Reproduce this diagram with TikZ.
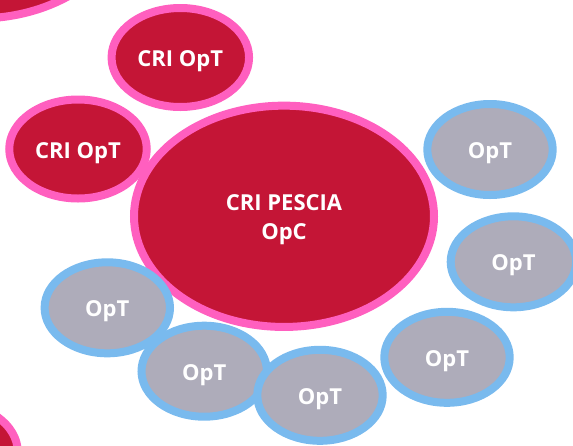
\documentclass[tikz,border=0pt]{standalone}
\usepackage{fontspec}
\setmainfont{Open Sans}
\usetikzlibrary{shapes.geometric}
\definecolor{crired}{HTML}{C41536}
\definecolor{cripink}{HTML}{FF5FBF}
\definecolor{optblue}{HTML}{79BAEE}
\definecolor{optgray}{HTML}{AEACBA}
\tikzset{
  bubble/.style={ellipse, inner sep=0pt, line width=8pt, text=white,
    font=\bfseries\fontsize{22}{29}\selectfont, align=center,
    text height=18pt, text depth=0pt},
  crinode/.style={bubble, draw=cripink, fill=crired},
  optnode/.style={bubble, draw=optblue, fill=optgray, minimum width=125.4pt, minimum height=91pt},
  crisat/.style={crinode, minimum width=137.5pt, minimum height=99pt},
}
\begin{document}
\begin{tikzpicture}[x=1pt,y=-1pt]
\useasboundingbox (0,0) rectangle (573,445);
\clip (0,0) rectangle (573,445);
% partial neighbours
\node[crinode, minimum width=300pt, minimum height=221pt] (nbtop) at (-22,-92) {};
\node[crisat] (nbbottom) at (-51,452) {};
% main
\node[crinode, minimum width=300pt, minimum height=221.3pt, text height=47pt] (main) at (284,216.3) {CRI PESCIA\\OpC};
\node[crisat] (critop) at (180.3,57.5) {CRI OpT};
\node[crisat] (crileft) at (78,149) {CRI OpT};
\node[optnode] (opt1) at (490,149.5) {OpT};
\node[optnode] (opt2) at (513.4,261.8) {OpT};
\node[optnode] (opt3) at (107.3,307.8) {OpT};
\node[optnode] (opt4) at (204.2,371.2) {OpT};
\node[optnode] (opt5) at (320,395.3) {OpT};
\node[optnode] (opt6) at (447,357.3) {OpT};
\end{tikzpicture}
\end{document}
